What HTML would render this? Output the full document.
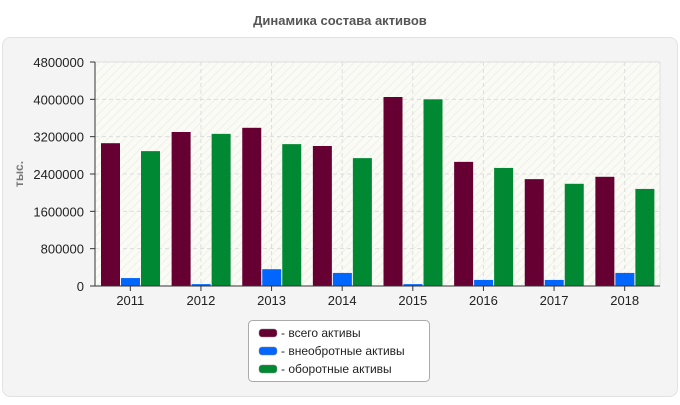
<!DOCTYPE html>
<html><head><meta charset="utf-8"><style>
body{margin:0;background:#fff;font-family:"Liberation Sans",sans-serif;}
</style></head><body>
<svg id="c" width="680" height="400" xmlns="http://www.w3.org/2000/svg">
<defs>
<pattern id="hatch" width="6" height="6" patternUnits="userSpaceOnUse" patternTransform="rotate(45)">
<rect width="6" height="6" fill="#fbfbf6"/><line x1="0" y1="0" x2="0" y2="6" stroke="#f0f0ea" stroke-width="2"/>
</pattern>
</defs>
<text x="340" y="25" text-anchor="middle" font-size="13" font-weight="bold" fill="#555">Динамика состава активов</text>
<rect x="2.5" y="37.5" width="675" height="359" rx="8" fill="#f4f4f4" stroke="#e2e2e2"/>
<rect x="95" y="62" width="565" height="224" fill="url(#hatch)" stroke="#e0e0e0"/>
<g id="grid"></g><g id="bars"></g><g id="axes"></g>
<text transform="translate(23,174) rotate(-90)" text-anchor="middle" font-size="12" font-weight="bold" fill="#777">тыс.</text>
<g>
<rect x="248.5" y="320.5" width="181" height="61" rx="4" fill="#fff" stroke="#aaa"/>
<rect x="259" y="329" width="18" height="8" rx="3" fill="#660033" stroke="#888" stroke-width="0.5"/>
<text x="281" y="337" font-size="12" fill="#222">- всего активы</text>
<rect x="259" y="347" width="18" height="8" rx="3" fill="#0066ff" stroke="#888" stroke-width="0.5"/>
<text x="281" y="355" font-size="12" fill="#222">- внеобротные активы</text>
<rect x="259" y="365" width="18" height="8" rx="3" fill="#008833" stroke="#888" stroke-width="0.5"/>
<text x="281" y="373" font-size="12" fill="#222">- оборотные активы</text>
</g>
</svg>
<script>
const categories=["2011","2012","2013","2014","2015","2016","2017","2018"];
const totalAssets=[3060000,3300000,3390000,3000000,4050000,2660000,2290000,2340000];
const nonCurrentAssets=[170000,40000,360000,280000,40000,130000,130000,280000];
const currentAssets=[2890000,3260000,3040000,2740000,4000000,2530000,2190000,2080000];
const yTicks=[0,800000,1600000,2400000,3200000,4000000,4800000];
const NS="http://www.w3.org/2000/svg";
const X0=95,X1=660,Y0=286,Y1=62,YMAX=4800000;
const y=v=>Y0-(v/YMAX)*(Y0-Y1);
const gw=(X1-X0)/categories.length;
const xg=i=>X0+i*gw;
function mk(p,t,a){const e=document.createElementNS(NS,t);for(const k in a)e.setAttribute(k,a[k]);p.appendChild(e);return e;}
const grid=document.getElementById('grid'),bars=document.getElementById('bars'),axes=document.getElementById('axes');
yTicks.forEach(t=>{
 if(t>0){const l=mk(grid,'line',{x1:X0,x2:X1,y1:y(t),y2:y(t),stroke:'#ddd','stroke-dasharray':'4,3'});
 
 }
 const tk=mk(axes,'line',{x1:X0-5,x2:X0,y1:y(t),y2:y(t),stroke:'#333'});
 
 
 const tx=mk(axes,'text',{x:X0-11,y:y(t)+5,'text-anchor':'end','font-size':13,fill:'#222'});
 tx.textContent=t;
 
 
});
const series=[[totalAssets,'#660033','total'],[nonCurrentAssets,'#0066ff','noncurrent'],[currentAssets,'#008833','current']];
categories.forEach((c,i)=>{
 const cx=xg(i)+gw/2;
 if(i>0){const l=mk(grid,'line',{x1:cx,x2:cx,y1:Y1,y2:Y0,stroke:'#ddd','stroke-dasharray':'4,3'});
 
 }
 series.forEach((s,j)=>{
  const bx=xg(i)+6+j*20;
  const r=mk(bars,'rect',{x:bx,y:y(s[0][i]),width:19,height:Y0-y(s[0][i]),fill:s[1]});
  
  
 });
 const tk=mk(axes,'line',{x1:cx,x2:cx,y1:Y0,y2:Y0+5,stroke:'#333'});
 
 
 const tx=mk(axes,'text',{x:cx,y:Y0+19,'text-anchor':'middle','font-size':13,fill:'#222'});
 tx.textContent=c;
 
 
});
const ax=mk(axes,'line',{x1:X0,x2:X0,y1:Y1,y2:Y0,stroke:'#333'});


const bx=mk(axes,'line',{x1:X0,x2:X1,y1:Y0,y2:Y0,stroke:'#333'});


</script>
</body></html>
